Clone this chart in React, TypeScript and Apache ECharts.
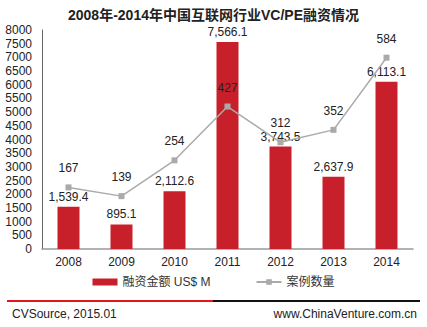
import React, { useEffect, useRef } from "react";
import * as echarts from "echarts";

const years = ["2008", "2009", "2010", "2011", "2012", "2013", "2014"];
const amounts = [1539.4, 895.1, 2112.6, 7566.1, 3743.5, 2637.9, 6113.1];
const counts = [167, 139, 254, 427, 312, 352, 584];
const titleText = "2008年-2014年中国互联网行业VC/PE融资情况";
const barName = "融资金额 US$ M";
const lineName = "案例数量";

const FONT = "'Liberation Sans', Arial, 'Noto Sans CJK SC', sans-serif";

export default function App() {
  const ref = useRef<HTMLDivElement>(null);
  useEffect(() => {
    const chart = echarts.init(ref.current!, null, { renderer: "svg" });
    chart.setOption({
      animation: false,
      backgroundColor: "#fff",
      textStyle: { fontFamily: FONT },
      title: {
        text: titleText,
        left: "center",
        top: 3,
        textStyle: { fontSize: 14, fontWeight: "bold", color: "#222", fontFamily: FONT },
      },
      legend: {
        bottom: 34,
        left: "center",
        itemGap: 45,
        itemWidth: 25,
        itemHeight: 7,
        textStyle: { fontSize: 12, color: "#333", fontFamily: FONT },
        data: [
          { name: barName, icon: "rect" },
          { name: lineName },
        ],
      },
      grid: { left: 42, right: 14, top: 30, bottom: 78 },
      xAxis: {
        type: "category",
        data: years,
        axisLine: { lineStyle: { color: "#999", width: 1.5 } },
        axisTick: { show: false },
        axisLabel: { fontSize: 12, color: "#222", margin: 7, fontFamily: FONT },
      },
      yAxis: [
        {
          type: "value",
          min: 0,
          max: 8000,
          interval: 500,
          splitLine: { show: false },
          axisLine: { show: true, lineStyle: { color: "#666" } },
          axisTick: { show: false },
          axisLabel: {
            fontSize: 12,
            color: "#222",
            margin: 10,
            fontFamily: FONT,
            formatter: (v: number) => String(v),
          },
        },
        {
          type: "value",
          min: -31,
          max: 673,
          show: false,
          splitLine: { show: false },
        },
      ],
      series: [
        {
          name: barName,
          type: "bar",
          data: amounts,
          barWidth: 22,
          itemStyle: { color: "#c8202a" },
          label: {
            show: true,
            position: "top",
            distance: 4,
            fontSize: 12,
            color: "#222",
            fontFamily: FONT,
            formatter: (p: any) =>
              Number(p.value).toLocaleString("en-US", { minimumFractionDigits: 1, maximumFractionDigits: 1 }),
          },
        },
        {
          name: lineName,
          type: "line",
          yAxisIndex: 1,
          data: counts,
          symbol: "rect",
          symbolSize: 6,
          lineStyle: { color: "#aaaaaa", width: 1.5 },
          itemStyle: { color: "#aaaaaa" },
          label: {
            show: true,
            position: "top",
            distance: 10,
            fontSize: 12,
            color: "#222",
            fontFamily: FONT,
          },
        },
      ],
      graphic: [
        { type: "line", shape: { x1: 7, y1: 301, x2: 213, y2: 301 }, style: { stroke: "#e8141c", lineWidth: 2 } },
        { type: "line", shape: { x1: 213, y1: 301, x2: 420, y2: 301 }, style: { stroke: "#111", lineWidth: 2 } },
        {
          type: "text",
          left: 12,
          top: 308,
          style: { text: "CVSource, 2015.01", fontSize: 12, fill: "#222", fontFamily: FONT },
        },
        {
          type: "text",
          right: 10,
          top: 308,
          style: { text: "www.ChinaVenture.com.cn", fontSize: 12, fill: "#222", fontFamily: FONT },
        },
      ],
    });
    return () => chart.dispose();
  }, []);
  return <div ref={ref} style={{ width: 427, height: 327, position: "absolute", left: 0, top: 0 }} />;
}
